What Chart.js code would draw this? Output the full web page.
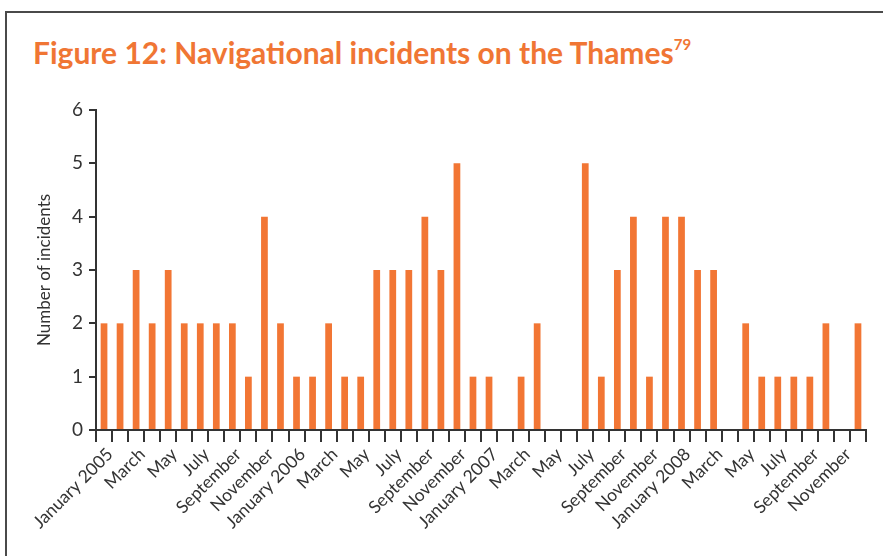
<!DOCTYPE html>
<html>
<head>
<meta charset="utf-8">
<script src="https://cdn.jsdelivr.net/npm/chart.js@4"></script>
<style>
  html, body { margin: 0; padding: 0; background: #fff; }
  body { width: 883px; height: 556px; position: relative; overflow: hidden; }
  #frame { position: absolute; left: 5px; top: 11px; width: 900px; height: 600px;
           border-top: 2px solid #4a4a4a; border-left: 2px solid #4a4a4a; }
  #title { position: absolute; left: 33px; top: 34px; margin: 0;
           font-family: Lato, sans-serif; font-weight: bold; font-size: 30px;
           color: #f07634; white-space: nowrap; }
  #title sup { font-size: 15px; position: relative; top: -3px; }
  #wrap { position: absolute; left: 0; top: 0; width: 883px; height: 556px; }
</style>
</head>
<body>
<div id="frame"></div>
<h1 id="title">Figure 12: Navigational incidents on the Thames<sup>79</sup></h1>
<div id="wrap"><canvas id="chart"></canvas></div>
<script>
// months Jan 2005 - Dec 2008
var months = [
    'January 2005', 'February', 'March', 'April', 'May', 'June', 'July', 'August', 'September', 'October', 'November', 'December',
    'January 2006', 'February', 'March', 'April', 'May', 'June', 'July', 'August', 'September', 'October', 'November', 'December',
    'January 2007', 'February', 'March', 'April', 'May', 'June', 'July', 'August', 'September', 'October', 'November', 'December',
    'January 2008', 'February', 'March', 'April', 'May', 'June', 'July', 'August', 'September', 'October', 'November', 'December'
];
var incidents2005 = [2, 2, 3, 2, 3, 2, 2, 2, 2, 1, 4, 2];
var incidents2006 = [1, 1, 2, 1, 1, 3, 3, 3, 4, 3, 5, 1];
var incidents2007 = [1, 0, 1, 2, 0, 0, 5, 1, 3, 4, 1, 4];
var incidents2008 = [4, 3, 3, 0, 2, 1, 1, 1, 1, 2, 0, 2];
var yTicks = [0, 1, 2, 3, 4, 5, 6];

var incidents = incidents2005.concat(incidents2006, incidents2007, incidents2008);

var axisColor = '#333333';
var textColor = '#333333';
var fontFamily = 'Lato';

function drawChart() {
    var ctx = document.getElementById('chart').getContext('2d');
    return new Chart(ctx, {
        type: 'bar',
        data: {
            labels: months,
            datasets: [{
                label: 'Number of incidents',
                data: incidents,
                backgroundColor: '#f27634',
                borderWidth: 0,
                categoryPercentage: 1,
                barPercentage: 0.42
            }]
        },
        options: {
            responsive: true,
            maintainAspectRatio: false,
            animation: false,
            layout: {
                padding: { left: 0, top: 110, right: 17, bottom: 0 }
            },
            plugins: {
                legend: { display: false },
                tooltip: { enabled: false }
            },
            scales: {
                x: {
                    offset: true,
                    grid: {
                        offset: true,
                        drawOnChartArea: false,
                        drawTicks: true,
                        tickLength: 12,
                        color: axisColor,
                        lineWidth: 2
                    },
                    border: { display: true, color: axisColor, width: 2 },
                    ticks: {
                        autoSkip: false,
                        maxRotation: 45,
                        minRotation: 45,
                        padding: 2,
                        labelOffset: 6,
                        color: textColor,
                        font: { family: fontFamily, size: 17.5 },
                        callback: function (value, index) {
                            return index % 2 === 0 ? months[index] : ''; // every other month
                        }
                    },
                    afterFit: function (scale) {
                        scale.height = 126; // x axis at y=430
                    }
                },
                y: {
                    min: 0,
                    max: 6,
                    afterBuildTicks: function (scale) {
                        scale.ticks = yTicks.map(function (v) { return { value: v }; });
                    },
                    grid: {
                        drawOnChartArea: false,
                        drawTicks: true,
                        tickLength: 7,
                        color: axisColor,
                        lineWidth: 2
                    },
                    border: { display: true, color: axisColor, width: 2 },
                    ticks: {
                        padding: 6,
                        color: textColor,
                        font: { family: fontFamily, size: 19 }
                    },
                    title: {
                        display: true,
                        text: 'Number of incidents',
                        color: textColor,
                        font: { family: fontFamily, size: 17 },
                        padding: { top: 34, bottom: 0 }
                    },
                    afterFit: function (scale) {
                        scale.width = 96; // y axis at x=96
                    }
                }
            }
        }
    });
}

Promise.all([
    document.fonts.load('17px Lato'),
    document.fonts.load('19px Lato')
]).then(drawChart, drawChart);
</script>
</body>
</html>
